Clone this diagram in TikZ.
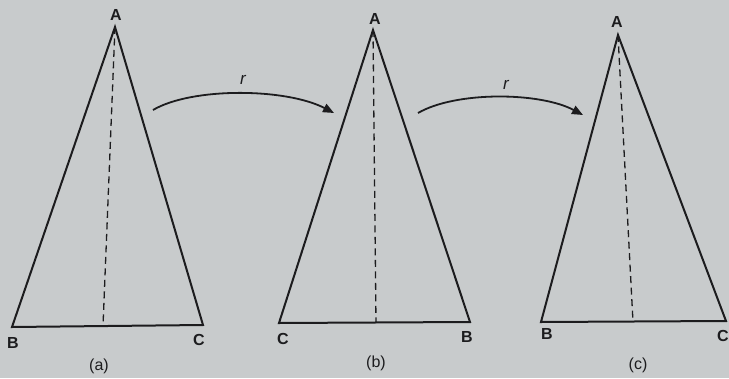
\documentclass[tikz,border=0pt]{standalone}
\usepackage{fontspec}
\setmainfont{Liberation Sans}
\usetikzlibrary{positioning,arrows.meta}
\definecolor{pagegrey}{RGB}{200,203,204}
\definecolor{ink}{RGB}{28,28,30}

\begin{document}
\begin{tikzpicture}[x=1pt,y=-1pt,line join=miter,
    every node/.style={font=\fontsize{16}{18}\selectfont\bfseries,text=ink,inner sep=0pt},
    side/.style={ink,line width=2pt},
    axis/.style={ink,line width=1.3pt,dash pattern=on 7pt off 4.5pt},
    move/.style={ink,line width=1.8pt,-{Triangle[length=11pt,width=9pt]}},
    caption/.style={font=\fontsize{16}{18}\selectfont},
    turn/.style={font=\fontsize{17}{18}\selectfont\itshape}]
  % page background
  \fill[pagegrey] (0,0) rectangle (729,378);
  \useasboundingbox (0,0) rectangle (729,378);

  % (a)
  \coordinate (aA) at (115,27); \coordinate (aB) at (12,327);
  \coordinate (aC) at (203,325); \coordinate (aM) at (103,326);
  \draw[side] (aA) -- (aB) -- (aC) -- cycle;
  \draw[axis] (aA) -- (aM);
  \node (la) at (116,15) {A};
  \node (lb) at (13,343) {B};
  \node (lc) at (199,340) {C};
  \node[caption] (capa) at (99,366) {(a)};

  % (b)
  \coordinate (bA) at (373,30); \coordinate (bC) at (279,323);
  \coordinate (bB) at (470,322); \coordinate (bM) at (376,323);
  \draw[side] (bA) -- (bC) -- (bB) -- cycle;
  \draw[axis] (bA) -- (bM);
  \node (lba) at (375,19) {A};
  \node (lbc) at (283,339) {C};
  \node (lbb) at (467,337) {B};
  \node[caption] (capb) at (376,363) {(b)};

  % (c)
  \coordinate (cA) at (618,35); \coordinate (cB) at (541,322);
  \coordinate (cC) at (726,321); \coordinate (cM) at (633,322);
  \draw[side] (cA) -- (cB) -- (cC) -- cycle;
  \draw[axis] (cA) -- (cM);
  \node (lca) at (617,22) {A};
  \node (lcb) at (547,334) {B};
  \node (lcc) at (723,336) {C};
  \node[caption] (capc) at (638,365) {(c)};

  % the rotations r
  \coordinate (r1s) at (153,110); \coordinate (r1e) at (334,113);
  \coordinate (r2s) at (418,113); \coordinate (r2e) at (583,115);
  \draw[move] (r1s) .. controls (192,87) and (286,88) .. (r1e);
  \draw[move] (r2s) .. controls (456,91) and (540,92) .. (r2e);
  \node[turn] (r1) at (243,80) {r};
  \node[turn] (r2) at (506,85) {r};
\end{tikzpicture}
\end{document}
